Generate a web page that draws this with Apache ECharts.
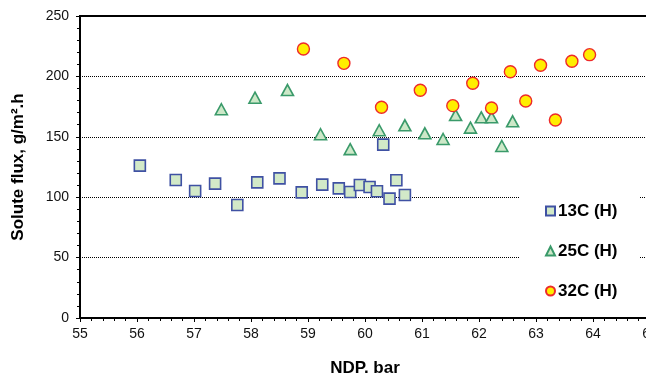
<!DOCTYPE html>
<html>
<head>
<meta charset="utf-8">
<script src="https://cdn.jsdelivr.net/npm/echarts@6/dist/echarts.min.js"></script>
<style>html,body{margin:0;padding:0;background:#fff;}#c{width:646px;height:380px;}</style>
</head>
<body>
<div id="c"></div>
<script>
var seriesNames = ['13C (H)', '25C (H)', '32C (H)'];
var x13 = [56.05, 56.68, 57.02, 57.37, 57.76, 58.11, 58.50, 58.89, 59.25, 59.54, 59.74, 59.91, 60.08, 60.21, 60.32, 60.43, 60.55, 60.70];
var y13 = [126.1, 114.2, 105.1, 111.2, 93.5, 112.3, 115.6, 104.0, 110.4, 107.3, 104.3, 110.1, 108.4, 104.9, 143.5, 98.8, 114.0, 101.8];
var x25 = [57.48, 58.07, 58.64, 59.22, 59.74, 60.25, 60.70, 61.05, 61.37, 61.59, 61.85, 62.04, 62.22, 62.40, 62.59];
var y25 = [172.8, 182.4, 188.7, 152.1, 139.8, 155.4, 159.5, 152.9, 148.2, 168.0, 157.6, 166.1, 166.1, 142.4, 162.8];
var x32 = [58.92, 59.63, 60.29, 60.97, 61.54, 61.89, 62.22, 62.55, 62.82, 63.08, 63.34, 63.63, 63.94];
var y32 = [222.7, 210.8, 174.4, 188.5, 175.8, 194.3, 173.8, 203.9, 179.6, 209.2, 163.9, 212.5, 218.0];

function pairs(xs, ys) { return xs.map(function (v, i) { return [v, ys[i]]; }); }

var chart = echarts.init(document.getElementById('c'), null, {renderer: 'canvas'});
var font = 'Liberation Sans, Arial, sans-serif';
chart.setOption({
  animation: false,
  backgroundColor: '#fff',
  textStyle: {fontFamily: font},
  grid: {left: 80, top: 16, width: 570, height: 302, containLabel: false, outerBoundsMode: 'none',
         show: true, borderColor: '#000', borderWidth: 2, backgroundColor: 'transparent'},
  xAxis: {
    type: 'value', min: 55, max: 65, interval: 1,
    name: 'NDP. bar', nameLocation: 'middle', nameGap: 42,
    nameTextStyle: {fontSize: 17, fontWeight: 'bold', color: '#000', fontFamily: font},
    axisLine: {lineStyle: {color: '#000', width: 2}},
    axisTick: {show: true, length: 4, lineStyle: {color: '#000', width: 1}},
    minorTick: {show: true, splitNumber: 5, length: 3, lineStyle: {color: '#000', width: 1}},
    axisLabel: {fontSize: 14, color: '#111', margin: 9, fontFamily: font, hideOverlap: false},
    splitLine: {show: false}
  },
  yAxis: {
    type: 'value', min: 0, max: 250, interval: 50,
    name: 'Solute flux, g/m².h', nameLocation: 'middle', nameGap: 53,
    nameTextStyle: {fontSize: 17, fontWeight: 'bold', color: '#000', fontFamily: font},
    axisLine: {show: true, lineStyle: {color: '#000', width: 2}},
    axisTick: {show: true, length: 4, lineStyle: {color: '#000', width: 1}},
    minorTick: {show: true, splitNumber: 5, length: 3, lineStyle: {color: '#000', width: 1}},
    axisLabel: {fontSize: 14, color: '#111', margin: 11, fontFamily: font},
    splitLine: {show: true, lineStyle: {color: '#000', width: 1, type: [1, 1]}}
  },
  legend: {
    orient: 'vertical', left: 519, top: 176,
    padding: [25, 22, 12, 26],
    backgroundColor: '#fff',
    itemWidth: 9, itemHeight: 9, itemGap: 20,
    textStyle: {fontSize: 17, fontWeight: 'bold', color: '#000', lineHeight: 20, padding: [0, 0, 0, -2], fontFamily: font},
    data: seriesNames,
    z: 10
  },
  series: [
    {name: seriesNames[0], type: 'scatter', symbol: 'rect', symbolSize: 11, data: pairs(x13, y13),
     itemStyle: {color: '#d2e9c8', borderColor: '#3f51a3', borderWidth: 1.6, opacity: 1}},
    {name: seriesNames[1], type: 'scatter', symbol: 'triangle', symbolSize: [12, 11], data: pairs(x25, y25),
     itemStyle: {color: '#cde8c8', borderColor: '#3a9a6a', borderWidth: 1.6, opacity: 1}},
    {name: seriesNames[2], type: 'scatter', symbol: 'circle', symbolSize: 12, data: pairs(x32, y32),
     itemStyle: {color: '#ffee00', borderColor: '#ee2a2a', borderWidth: 1.4, opacity: 1}}
  ]
});
</script>
</body>
</html>
